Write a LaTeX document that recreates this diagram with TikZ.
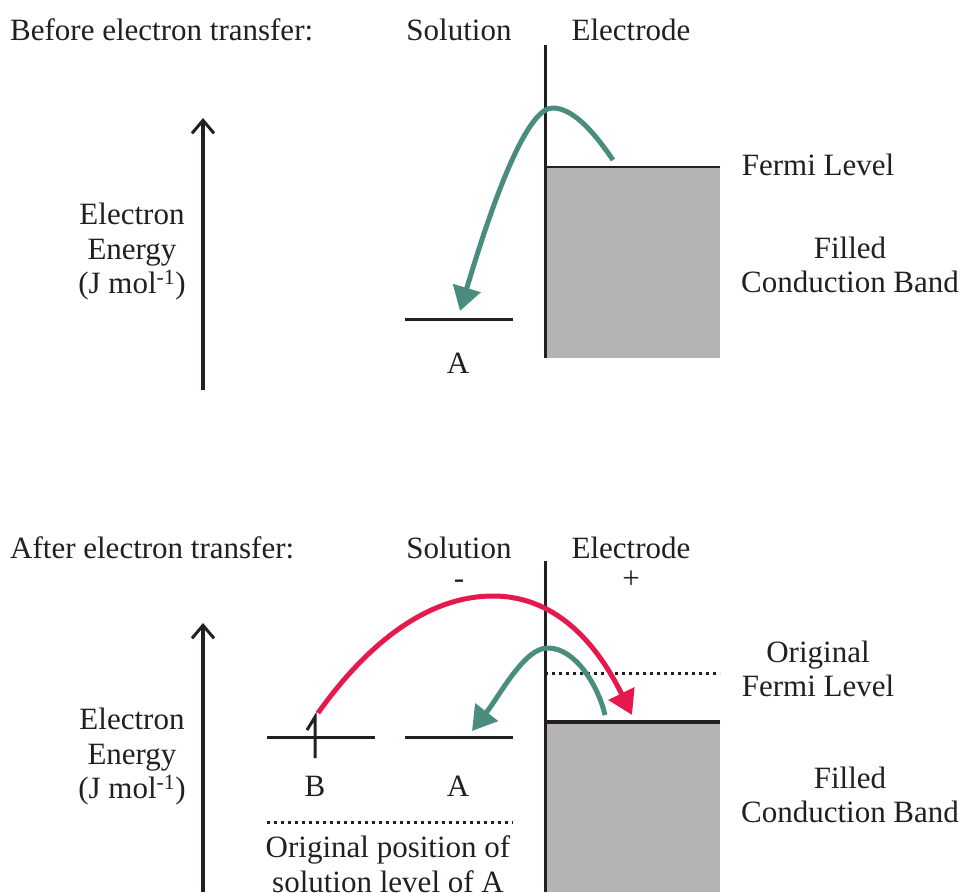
\documentclass[tikz,border=0pt]{standalone}
\usepackage{fontspec}
\setmainfont{Liberation Serif}
\usetikzlibrary{arrows.meta}
\definecolor{tinta}{HTML}{231F20}
\definecolor{verdeT}{HTML}{4A8C7D}
\definecolor{rojoT}{HTML}{E5194B}
\definecolor{grisB}{HTML}{B2B3B2}

\begin{document}
\begin{tikzpicture}[x=1pt,y=-1pt,
    rotulo/.style={font=\fontsize{31}{34.5}\selectfont,text=tinta,inner sep=0pt,align=center},
    nivel/.style={draw=tinta,line width=3pt},
    punteado/.style={draw=tinta,line width=3pt,dash pattern=on 3pt off 4pt},
    salto/.style={line width=5pt,-{Triangle[length=24pt,width=28pt]}},
    eje/.style={draw=tinta,line width=3.5pt,-{Straight Barb[length=13pt,width=22pt,line width=3pt]}}]
  \useasboundingbox (0,0) rectangle (961,892);
  % antes de la transferencia
  \fill[grisB] (545,167) rectangle (720,358);
  \draw[tinta,line width=2pt] (545,167) -- (720,167);
  \draw[tinta,line width=3pt] (545,45) -- (545,358);
  \draw[nivel] (405,319) -- (513,319);
  \coordinate (ejeA0) at (203,390);
  \coordinate (ejeA1) at (203,118);
  \draw[eje] (ejeA0) -- (ejeA1);
  \coordinate (fermiA) at (613,160);
  \coordinate (cimaA) at (553,108);
  \coordinate (nivelA) at (460,311);
  \draw[salto,verdeT] (fermiA) .. controls (598,138) and (575,108) .. (cimaA)
    .. controls (530,107) and (499,180) .. (nivelA);
  \node[rotulo,anchor=base west] (antes) at (10,40) {Before electron transfer:};
  \node[rotulo,anchor=base] (solA) at (459,40) {Solution};
  \node[rotulo,anchor=base] (elecA) at (631,40) {Electrode};
  \node[rotulo,anchor=base] (fermiTxtA) at (818,175) {Fermi Level};
  \node[rotulo] (bandaA) at (850,265) {Filled\\Conduction Band};
  \node[rotulo,anchor=base] (letraA) at (458,373) {A};
  \node[rotulo] (energiaA) at (132,252) {Electron\\Energy\\(J mol\textsuperscript{-1})};
  % despues de la transferencia
  \fill[grisB] (545,722) rectangle (720,892);
  \draw[punteado] (545,673) -- (720,673);
  \draw[tinta,line width=3.5pt] (545,722) -- (720,722);
  \draw[tinta,line width=3pt] (545,561) -- (545,892);
  \draw[nivel] (267,737) -- (375,737);
  \draw[nivel] (405,737) -- (513,737);
  \draw[tinta,line width=3pt] (307,730) -- (315,717) -- (315,758);
  \draw[punteado] (267,822) -- (513,822);
  \coordinate (ejeB0) at (203,892);
  \coordinate (ejeB1) at (203,623);
  \draw[eje] (ejeB0) -- (ejeB1);
  \coordinate (nivelB) at (318,713);
  \coordinate (cimaR) at (493,596);
  \coordinate (bandaR) at (632,715);
  \draw[salto,rojoT] (nivelB) .. controls (370,640) and (430,596) .. (cimaR)
    .. controls (560,596) and (600,650) .. (bandaR);
  \coordinate (fermiB) at (605,715);
  \coordinate (cimaB) at (548,648);
  \coordinate (nivelA2) at (472,731);
  \draw[salto,verdeT] (fermiB) .. controls (598,685) and (575,648) .. (cimaB)
    .. controls (525,647) and (500,695) .. (nivelA2);
  \node[rotulo,anchor=base west] (despues) at (10,558) {After electron transfer:};
  \node[rotulo,anchor=base] (solB) at (459,558) {Solution};
  \node[rotulo,anchor=base] (elecB) at (631,558) {Electrode};
  \node[rotulo] (menos) at (459,584) {-};
  \node[rotulo] (mas) at (631,580) {+};
  \node[rotulo] (fermiTxtB) at (818,669) {Original\\Fermi Level};
  \node[rotulo] (bandaB) at (850,795) {Filled\\Conduction Band};
  \node[rotulo,anchor=base] (letraB) at (315,796) {B};
  \node[rotulo,anchor=base] (letraA2) at (458,796) {A};
  \node[rotulo] (energiaB) at (132,757) {Electron\\Energy\\(J mol\textsuperscript{-1})};
  \node[rotulo] (original) at (388,864) {Original position of\\solution level of A};
\end{tikzpicture}
\end{document}
